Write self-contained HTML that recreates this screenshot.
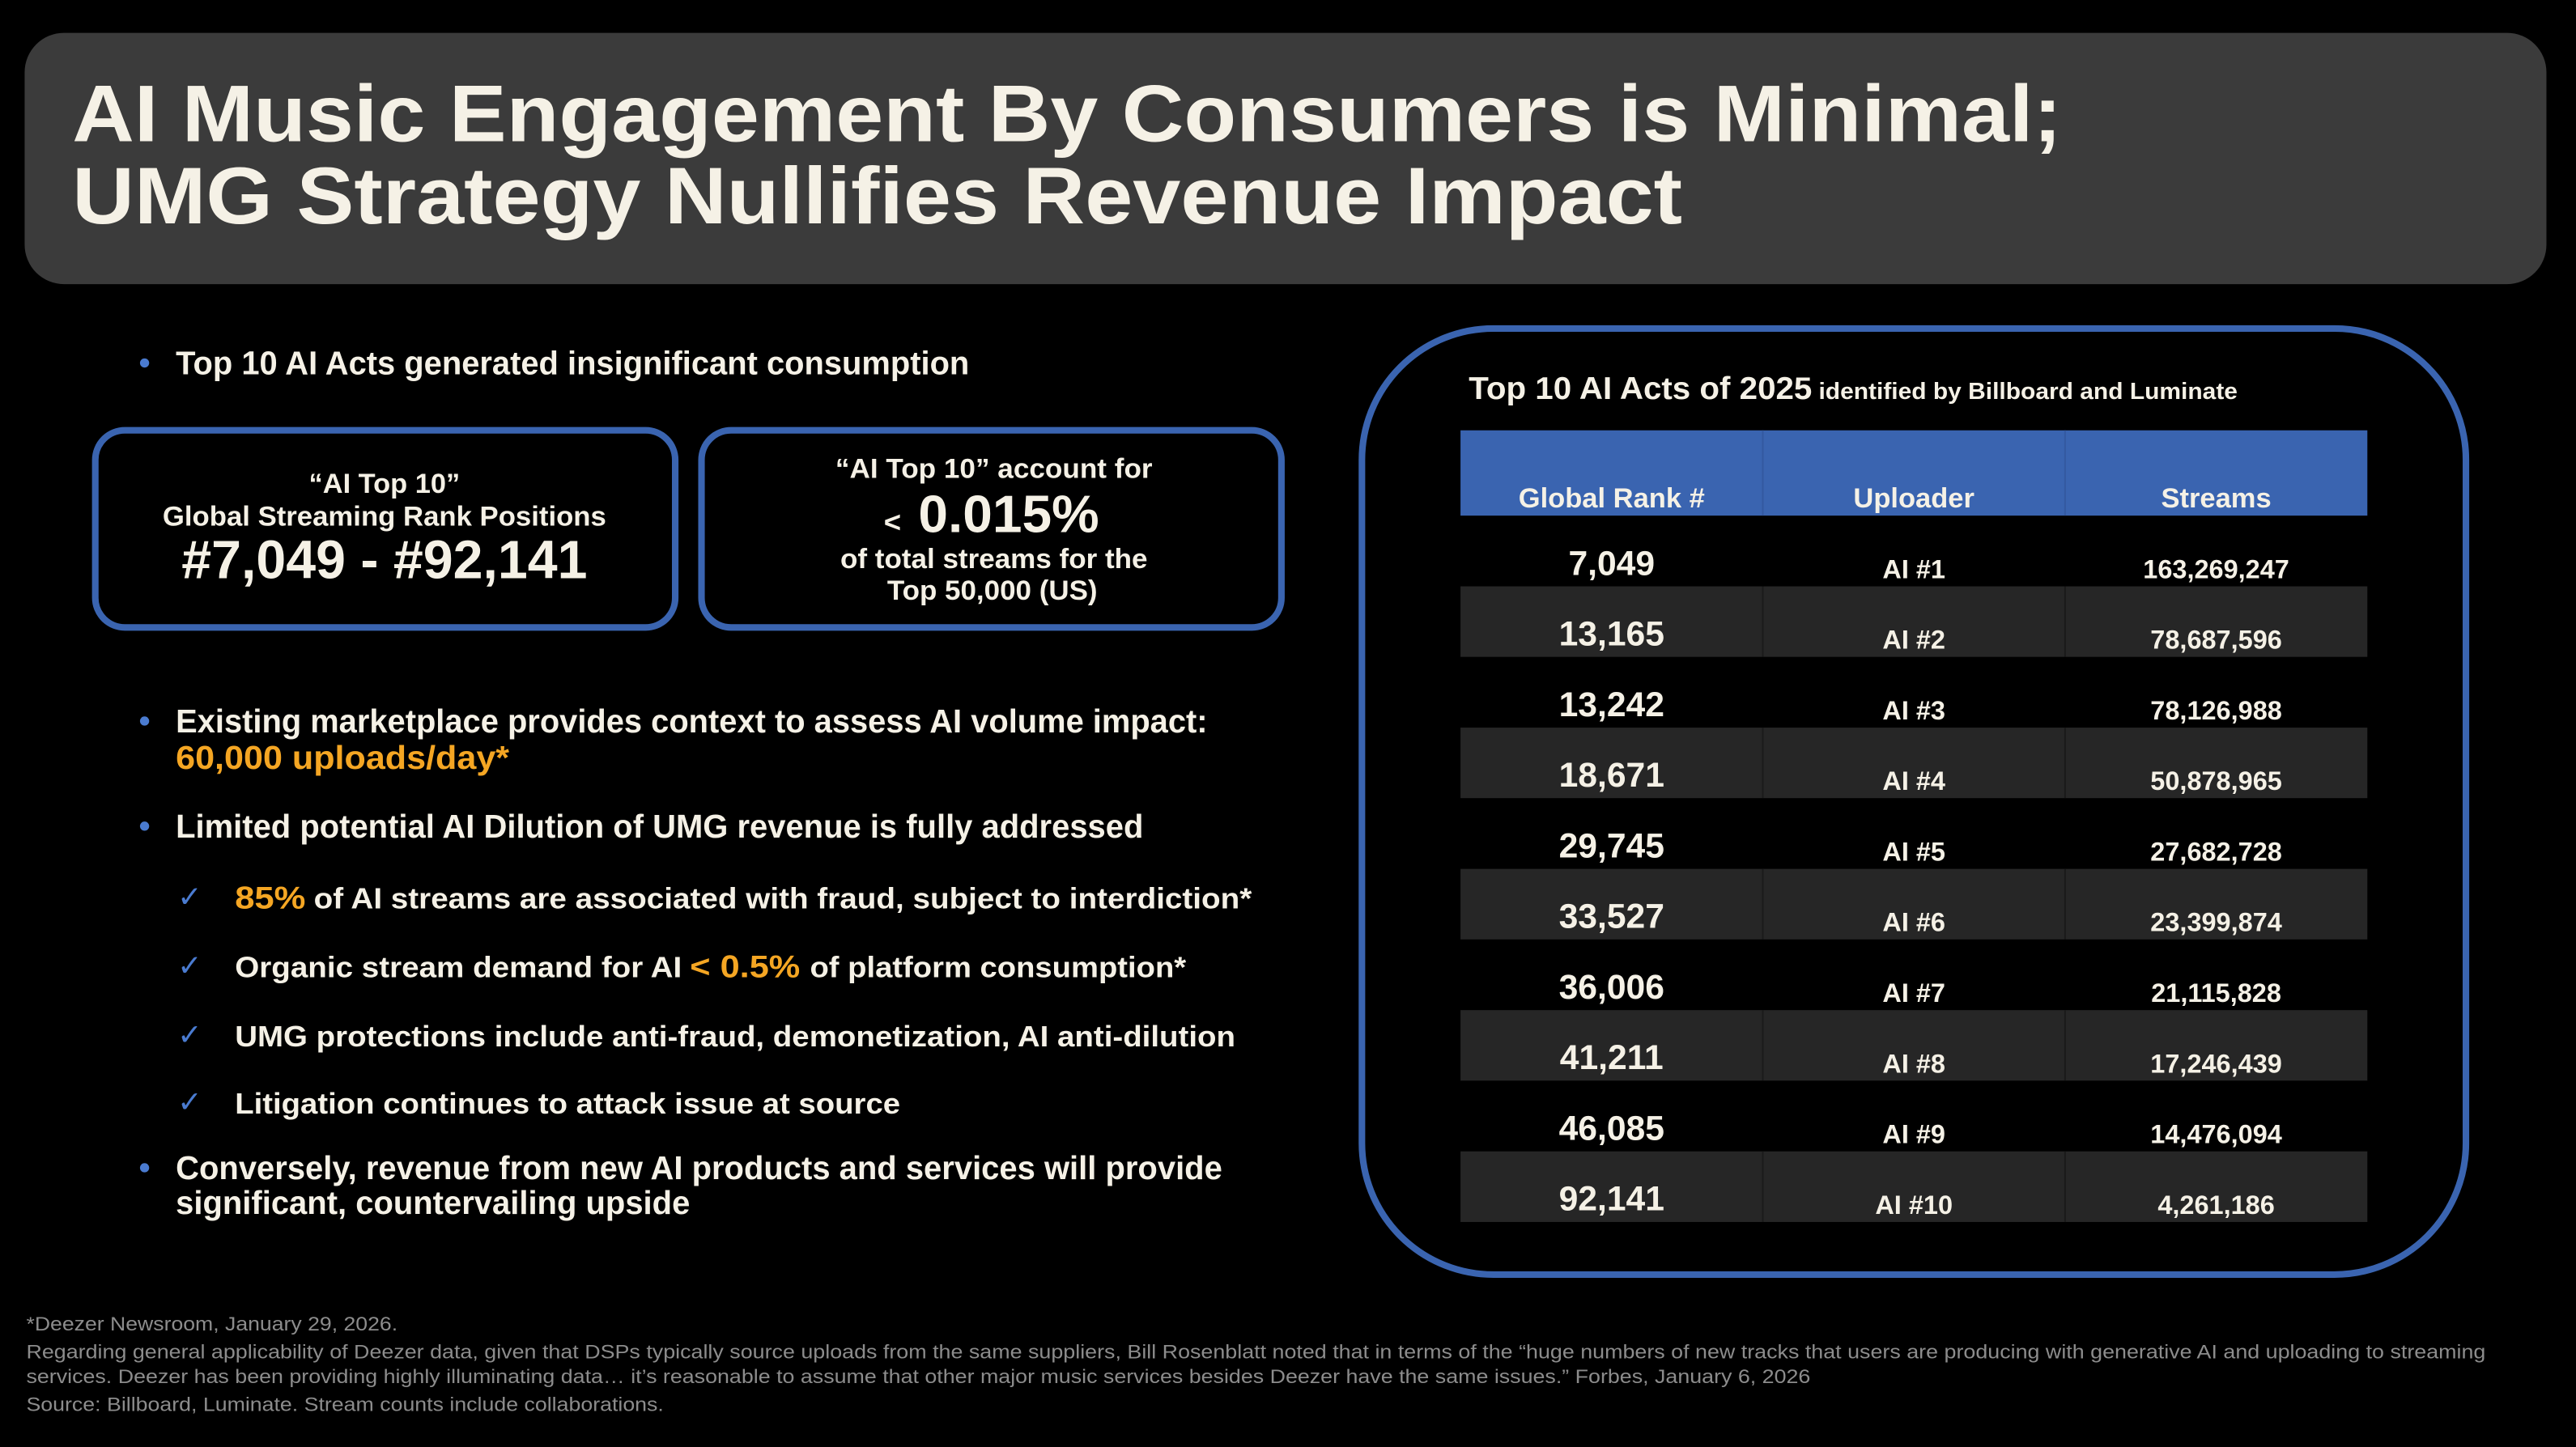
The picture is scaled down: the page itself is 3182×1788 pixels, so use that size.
<!DOCTYPE html>
<html><head><meta charset="utf-8"><style>
html,body{margin:0;padding:0;background:#000;}
svg{display:block;}
text{font-family:"Liberation Sans",Arial,sans-serif;font-weight:bold;fill:#f5f1e6;}
.fn{font-weight:normal;fill:#8c8c8c;font-size:12px;}
</style></head><body>
<svg id="s" width="3182" height="1788" viewBox="0 0 1568 881" preserveAspectRatio="none" xmlns="http://www.w3.org/2000/svg">
<rect width="1568" height="881" fill="#000"/>
<rect x="15" y="20" width="1535" height="153" rx="24" fill="#3b3b3b"/>
<text x="44" y="86" font-size="49" textLength="1211" lengthAdjust="spacingAndGlyphs">AI Music Engagement By Consumers is Minimal;</text>
<text x="44" y="136" font-size="49" textLength="980" lengthAdjust="spacingAndGlyphs">UMG Strategy Nullifies Revenue Impact</text>

<circle cx="88" cy="221" r="2.8" fill="#4a7bd0"/>
<text x="107" y="228" font-size="20" textLength="483" lengthAdjust="spacingAndGlyphs">Top 10 AI Acts generated insignificant consumption</text>

<g>
<rect x="58" y="262" width="353" height="120" rx="18" fill="none" stroke="#3a64b0" stroke-width="4"/>
<text x="234" y="300" font-size="17" text-anchor="middle" textLength="92" lengthAdjust="spacingAndGlyphs">“AI Top 10”</text>
<text x="234" y="320" font-size="17" text-anchor="middle" textLength="270" lengthAdjust="spacingAndGlyphs">Global Streaming Rank Positions</text>
<text x="234" y="352" font-size="33" text-anchor="middle" textLength="247" lengthAdjust="spacingAndGlyphs">#7,049 - #92,141</text>
</g>
<g>
<rect x="427" y="262" width="353" height="120" rx="18" fill="none" stroke="#3a64b0" stroke-width="4"/>
<text x="605" y="291" font-size="17" text-anchor="middle" textLength="193" lengthAdjust="spacingAndGlyphs">“AI Top 10” account for</text>
<text x="538" y="324" font-size="18">&lt;</text>
<text x="559" y="324" font-size="32" textLength="110" lengthAdjust="spacingAndGlyphs">0.015%</text>
<text x="605" y="346" font-size="17" text-anchor="middle" textLength="187" lengthAdjust="spacingAndGlyphs">of total streams for the</text>
<text x="604" y="365" font-size="17" text-anchor="middle" textLength="128" lengthAdjust="spacingAndGlyphs">Top 50,000 (US)</text>
</g>

<circle cx="88" cy="439" r="2.8" fill="#4a7bd0"/>
<text x="107" y="446" font-size="20" textLength="628" lengthAdjust="spacingAndGlyphs">Existing marketplace provides context to assess AI volume impact:</text>
<text x="107" y="468" font-size="20" textLength="203" lengthAdjust="spacingAndGlyphs" style="fill:#f5a623">60,000 uploads/day*</text>
<circle cx="88" cy="503" r="2.8" fill="#4a7bd0"/>
<text x="107" y="510" font-size="20" textLength="589" lengthAdjust="spacingAndGlyphs">Limited potential AI Dilution of UMG revenue is fully addressed</text>

<g font-size="18">
<text x="108" y="552" style="fill:#4a7bd0;font-weight:normal">✓</text>
<text x="143" y="553" font-size="19" style="fill:#f5a623" textLength="43" lengthAdjust="spacingAndGlyphs">85%</text>
<text x="191" y="553" textLength="571" lengthAdjust="spacingAndGlyphs">of AI streams are associated with fraud, subject to interdiction*</text>
<text x="108" y="594" style="fill:#4a7bd0;font-weight:normal">✓</text>
<text x="143" y="595" textLength="272" lengthAdjust="spacingAndGlyphs">Organic stream demand for AI</text>
<text x="420" y="595" font-size="19" style="fill:#f5a623" textLength="67" lengthAdjust="spacingAndGlyphs">&lt; 0.5%</text>
<text x="493" y="595" textLength="229" lengthAdjust="spacingAndGlyphs">of platform consumption*</text>
<text x="108" y="636" style="fill:#4a7bd0;font-weight:normal">✓</text>
<text x="143" y="637" textLength="609" lengthAdjust="spacingAndGlyphs">UMG protections include anti-fraud, demonetization, AI anti-dilution</text>
<text x="108" y="677" style="fill:#4a7bd0;font-weight:normal">✓</text>
<text x="143" y="678" textLength="405" lengthAdjust="spacingAndGlyphs">Litigation continues to attack issue at source</text>
</g>
<circle cx="88" cy="711" r="2.8" fill="#4a7bd0"/>
<text x="107" y="718" font-size="20" textLength="637" lengthAdjust="spacingAndGlyphs">Conversely, revenue from new AI products and services will provide</text>
<text x="107" y="739" font-size="20" textLength="313" lengthAdjust="spacingAndGlyphs">significant, countervailing upside</text>

<rect x="829" y="200" width="672" height="576" rx="80" fill="none" stroke="#3a64b0" stroke-width="4"/>
<text x="894" y="243" font-size="19" textLength="209" lengthAdjust="spacingAndGlyphs">Top 10 AI Acts of 2025</text>
<text x="1107" y="243" font-size="14" textLength="255" lengthAdjust="spacingAndGlyphs">identified by Billboard and Luminate</text>
<g id="tbl"></g>

<g class="fn">
<text class="fn" x="16" y="810" textLength="226" lengthAdjust="spacingAndGlyphs">*Deezer Newsroom, January 29, 2026.</text>
<text class="fn" x="16" y="827" textLength="1497" lengthAdjust="spacingAndGlyphs">Regarding general applicability of Deezer data, given that DSPs typically source uploads from the same suppliers, Bill Rosenblatt noted that in terms of the “huge numbers of new tracks that users are producing with generative AI and uploading to streaming</text>
<text class="fn" x="16" y="842" textLength="1086" lengthAdjust="spacingAndGlyphs">services. Deezer has been providing highly illuminating data… it’s reasonable to assume that other major music services besides Deezer have the same issues.” Forbes, January 6, 2026</text>
<text class="fn" x="16" y="859" textLength="388" lengthAdjust="spacingAndGlyphs">Source: Billboard, Luminate. Stream counts include collaborations.</text>
</g>
</svg>
<script>
const ranks = ["7,049","13,165","13,242","18,671","29,745","33,527","36,006","41,211","46,085","92,141"];
const uploaders = ["AI #1","AI #2","AI #3","AI #4","AI #5","AI #6","AI #7","AI #8","AI #9","AI #10"];
const streams = ["163,269,247","78,687,596","78,126,988","50,878,965","27,682,728","23,399,874","21,115,828","17,246,439","14,476,094","4,261,186"];
const headers = ["Global Rank #","Uploader","Streams"];
(function(){
  const NS="http://www.w3.org/2000/svg", g=document.getElementById('tbl');
  const x0=889, cw=184, hy=262, hh=52, rh=43;
  function mk(tag,attrs,txt){const e=document.createElementNS(NS,tag);for(const k in attrs)e.setAttribute(k,attrs[k]);if(txt!=null)e.textContent=txt;g.appendChild(e);return e;}
  const hb=mk('rect',{x:x0,y:hy,width:cw*3,height:hh,fill:'#3a64b0'});
  
  
  headers.forEach((h,i)=>{
    if(i>0) mk('line',{x1:x0+cw*i,y1:hy,x2:x0+cw*i,y2:hy+hh,stroke:'#3459a0','stroke-width':1});
    const t=mk('text',{x:x0+cw*i+cw/2,y:hy+47,'font-size':17,'text-anchor':'middle'},h);
    
    
  });
  ranks.forEach((r,i)=>{
    const y=hy+hh+i*rh;
    const row=mk('rect',{x:x0,y:y,width:cw*3,height:rh,fill:i%2?'#262626':'#000'});
    
    
    if(i%2){mk('line',{x1:x0+cw,y1:y,x2:x0+cw,y2:y+rh,stroke:'#1a1a1a'});mk('line',{x1:x0+2*cw,y1:y,x2:x0+2*cw,y2:y+rh,stroke:'#1a1a1a'});}
    const a=mk('text',{x:x0+cw/2,y:y+36,'font-size':21,'text-anchor':'middle'},r);
    
    
    const b=mk('text',{x:x0+cw*1.5,y:y+38,'font-size':16,'text-anchor':'middle'},uploaders[i]);
    
    
    const c=mk('text',{x:x0+cw*2.5,y:y+38,'font-size':16,'text-anchor':'middle'},streams[i]);
    
    
  });
})();
</script>
</body></html>
